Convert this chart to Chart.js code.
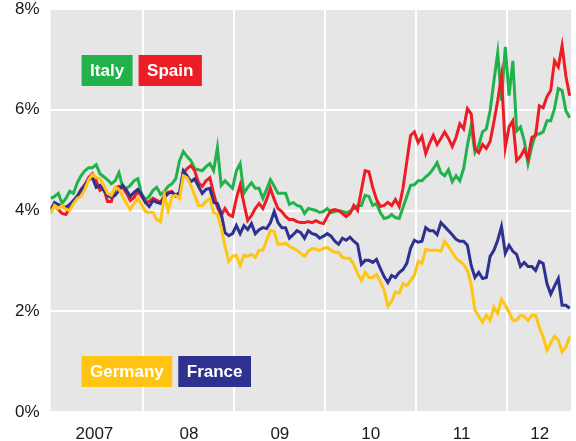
<!DOCTYPE html>
<html>
<head>
<meta charset="utf-8">
<script src="https://cdn.jsdelivr.net/npm/chart.js@4/dist/chart.umd.min.js"></script>
<style>
  html, body { margin: 0; padding: 0; background: #fff; }
  #wrap { width: 576px; height: 441px; }
</style>
</head>
<body>
<div id="wrap"><canvas id="chart" width="576" height="441"></canvas></div>
<script>
// ── Data: 10-year government bond yields, %, semi-monthly readings ────
const firstDate = 2006.98;     // decimal year of first reading
const stepYears = 1 / 24;      // two readings a month

const italy = [
  4.24, 4.28, 4.34, 4.14, 4.24, 4.38, 4.34, 4.55, 4.69, 4.79, 4.85, 4.85, 4.91, 4.73, 4.67, 4.61,
  4.53, 4.59, 4.75, 4.46, 4.44, 4.50, 4.59, 4.63, 4.32, 4.22, 4.28, 4.40, 4.46, 4.32, 4.38, 4.48,
  4.53, 4.63, 4.99, 5.17, 5.07, 4.99, 4.83, 4.81, 4.79, 4.87, 4.93, 4.79, 5.25, 4.50, 4.59, 4.51,
  4.44, 4.79, 4.93, 4.34, 4.46, 4.55, 4.44, 4.44, 4.24, 4.42, 4.61, 4.48, 4.34, 4.34, 4.34, 4.12,
  4.16, 4.10, 4.08, 3.94, 4.04, 4.02, 4.00, 3.96, 3.98, 4.04, 3.96, 3.98, 4.00, 3.98, 3.96, 3.98,
  4.04, 4.10, 4.10, 4.30, 4.28, 4.10, 4.14, 3.96, 3.84, 3.86, 3.92, 3.86, 3.84, 4.06, 4.28, 4.50,
  4.51, 4.59, 4.59, 4.67, 4.73, 4.83, 4.95, 4.75, 4.69, 4.81, 4.57, 4.69, 4.59, 4.83, 5.29, 5.68,
  5.15, 5.29, 5.56, 5.62, 5.98, 6.57, 7.13, 6.18, 7.25, 6.28, 6.97, 5.58, 5.66, 5.39, 4.93, 5.27,
  5.52, 5.52, 5.56, 5.78, 5.78, 6.02, 6.42, 6.38, 5.98, 5.84
];
const spain = [
  4.04, 4.14, 4.02, 3.94, 3.92, 4.06, 4.18, 4.28, 4.42, 4.51, 4.65, 4.73, 4.59, 4.40, 4.44, 4.18,
  4.18, 4.44, 4.48, 4.46, 4.34, 4.20, 4.26, 4.38, 4.28, 4.16, 4.18, 4.24, 4.20, 4.16, 4.30, 4.36,
  4.38, 4.28, 4.30, 4.75, 4.83, 4.89, 4.79, 4.55, 4.48, 4.59, 4.65, 4.34, 4.06, 3.90, 4.04, 3.92,
  3.88, 4.24, 4.50, 4.14, 3.80, 3.90, 4.04, 4.14, 4.04, 4.22, 4.44, 4.22, 4.04, 3.98, 3.88, 3.82,
  3.82, 3.78, 3.76, 3.76, 3.78, 3.76, 3.80, 3.76, 3.74, 3.88, 4.00, 4.02, 4.00, 3.94, 3.88, 3.94,
  4.10, 4.00, 4.40, 4.79, 4.77, 4.46, 4.22, 4.08, 4.10, 4.16, 4.10, 4.22, 4.08, 4.44, 4.97, 5.49,
  5.56, 5.35, 5.47, 5.13, 5.33, 5.49, 5.31, 5.43, 5.56, 5.43, 5.27, 5.45, 5.72, 5.62, 6.02, 5.92,
  5.23, 5.15, 5.31, 5.23, 5.37, 5.76, 6.18, 6.67, 5.25, 5.66, 5.78, 4.99, 5.07, 5.21, 5.03, 5.45,
  5.49, 6.08, 6.04, 6.26, 6.38, 6.97, 6.85, 7.27, 6.67, 6.28
];
const france = [
  4.00, 4.16, 4.12, 4.08, 4.06, 4.12, 4.20, 4.28, 4.40, 4.50, 4.61, 4.65, 4.46, 4.50, 4.40, 4.30,
  4.26, 4.30, 4.40, 4.50, 4.40, 4.28, 4.36, 4.42, 4.32, 4.16, 4.08, 4.20, 4.16, 4.14, 4.26, 4.34,
  4.36, 4.30, 4.36, 4.79, 4.69, 4.57, 4.63, 4.48, 4.34, 4.42, 4.44, 4.16, 4.14, 3.94, 3.56, 3.50,
  3.54, 3.70, 3.54, 3.70, 3.62, 3.74, 3.54, 3.62, 3.66, 3.64, 3.76, 3.98, 3.76, 3.66, 3.66, 3.45,
  3.52, 3.60, 3.56, 3.45, 3.60, 3.54, 3.52, 3.45, 3.49, 3.54, 3.49, 3.39, 3.33, 3.45, 3.41, 3.47,
  3.39, 3.33, 2.93, 3.01, 3.01, 2.97, 3.03, 2.85, 2.69, 2.57, 2.71, 2.67, 2.77, 2.83, 2.95, 3.25,
  3.41, 3.37, 3.39, 3.66, 3.60, 3.60, 3.52, 3.76, 3.68, 3.60, 3.52, 3.43, 3.39, 3.39, 3.31, 2.91,
  2.67, 2.77, 2.65, 2.67, 3.09, 3.21, 3.41, 3.68, 3.15, 3.31, 3.19, 3.13, 2.89, 2.97, 2.89, 2.89,
  2.81, 2.99, 2.95, 2.55, 2.34, 2.50, 2.65, 2.12, 2.12, 2.06
];
const germany = [
  3.94, 4.10, 4.04, 4.10, 4.02, 4.00, 4.14, 4.24, 4.28, 4.42, 4.61, 4.71, 4.65, 4.63, 4.50, 4.34,
  4.30, 4.46, 4.42, 4.28, 4.14, 4.02, 4.14, 4.24, 4.12, 3.98, 3.96, 3.96, 3.82, 3.78, 4.30, 4.00,
  4.28, 4.30, 4.24, 4.69, 4.65, 4.50, 4.30, 4.10, 4.10, 4.18, 4.24, 3.96, 3.92, 3.66, 3.29, 2.99,
  3.09, 3.11, 2.91, 3.11, 3.09, 3.13, 3.07, 3.21, 3.21, 3.41, 3.60, 3.58, 3.33, 3.33, 3.35, 3.29,
  3.25, 3.21, 3.15, 3.09, 3.19, 3.25, 3.23, 3.21, 3.25, 3.27, 3.21, 3.17, 3.17, 3.07, 3.05, 3.05,
  2.93, 2.75, 2.61, 2.77, 2.67, 2.67, 2.73, 2.59, 2.42, 2.10, 2.20, 2.38, 2.36, 2.55, 2.51, 2.61,
  2.71, 2.99, 2.95, 3.23, 3.21, 3.21, 3.21, 3.19, 3.39, 3.29, 3.17, 3.05, 2.99, 2.93, 2.81, 2.53,
  2.02, 1.90, 1.78, 1.92, 1.82, 2.08, 1.96, 2.24, 2.12, 1.98, 1.82, 1.82, 1.92, 1.90, 1.82, 1.92,
  1.92, 1.68, 1.49, 1.23, 1.37, 1.50, 1.43, 1.19, 1.29, 1.50
];

// ── Axis settings ─────────────────────────────────────────────────────
const xMin = 2006.978;
const xMax = 2012.703;
const yearBreaks = [2008, 2009, 2010, 2011, 2012];
const yearLabels = ['2007', '08', '09', '10', '11', '12'];
const yearLabelPos = [2007.46, 2008.5, 2009.5, 2010.5, 2011.5, 2012.36];
const yTicks = [0, 2, 4, 6, 8];

const countries = ['Italy', 'Spain', 'Germany', 'France'];
const colors = {
  Italy: '#22b24c',
  Spain: '#ee1d25',
  Germany: '#ffc512',
  France: '#2e3190',
};

const dates = italy.map((_, i) => firstDate + i * stepYears);
const toPoints = arr => arr.map((v, i) => ({ x: dates[i], y: v }));

const fontFamily = "'Liberation Sans', Arial, Helvetica, sans-serif";

// ── Plugins: grey plot panel + coloured name tags ─────────────────────
const plotBackground = {
  id: 'plotBackground',
  beforeDraw(chart) {
    const { ctx, chartArea: a } = chart;
    ctx.save();
    ctx.fillStyle = '#e6e6e6';
    ctx.fillRect(a.left, a.top, a.right - a.left, a.bottom - a.top);
    ctx.restore();
  }
};

const nameTags = {
  id: 'nameTags',
  afterDraw(chart) {
    const { ctx, chartArea: a } = chart;
    const rows = [
      { top: a.top + 46, names: ['Italy', 'Spain'] },
      { top: a.top + 347, names: ['Germany', 'France'] },
    ];
    ctx.save();
    ctx.font = `bold 17px ${fontFamily}`;
    ctx.textBaseline = 'middle';
    rows.forEach(row => {
      let x = a.left + 31;
      row.names.forEach(name => {
        const w = ctx.measureText(name).width + 17;
        ctx.fillStyle = colors[name];
        ctx.fillRect(x, row.top, w, 31);
        ctx.fillStyle = '#fff';
        ctx.textAlign = 'center';
        ctx.fillText(name, x + w / 2, row.top + 16.5);
        x += w + 6;
      });
    });
    ctx.restore();
  }
};

// ── Chart ─────────────────────────────────────────────────────────────
const drawOrder = { Germany: 1, France: 2, Spain: 3, Italy: 4 };
const series = { Italy: italy, Spain: spain, Germany: germany, France: france };

new Chart(document.getElementById('chart').getContext('2d'), {
  type: 'line',
  data: {
    datasets: countries.map(name => ({
      label: name,
      data: toPoints(series[name]),
      borderColor: colors[name],
      borderWidth: 3,
      pointRadius: 0,
      tension: 0,
      fill: false,
      order: drawOrder[name],
    })),
  },
  options: {
    responsive: false,
    animation: false,
    devicePixelRatio: 1,
    layout: { autoPadding: false, padding: { left: 4, right: 5, top: 9, bottom: 0 } },
    plugins: { legend: { display: false }, tooltip: { enabled: false } },
    scales: {
      x: {
        type: 'linear', min: xMin, max: xMax, position: 'bottom',
        afterBuildTicks: s => { s.ticks = yearBreaks.map(v => ({ value: v })); },
        afterFit: s => { s.height = 0; },
        ticks: { display: false },
        grid: { color: '#ffffff', lineWidth: 2, drawTicks: false },
        border: { display: false },
      },
      xl: {
        type: 'linear', min: xMin, max: xMax, position: 'bottom',
        afterBuildTicks: s => { s.ticks = yearLabelPos.map(v => ({ value: v })); },
        afterFit: s => { s.height = 29; s.paddingTop = 0; s.paddingBottom = 0; },
        ticks: {
          autoSkip: false, maxRotation: 0, padding: 12,
          color: '#1a1a1a', font: { family: fontFamily, size: 17 },
          callback: (v, i) => yearLabels[i],
        },
        grid: { display: false, drawTicks: false },
        border: { display: false },
      },
      y: {
        min: 0, max: 8,
        afterBuildTicks: s => { s.ticks = yTicks.map(v => ({ value: v })); },
        // labels may overhang the panel; do not shrink the plot for them
        afterFit: s => { s.paddingTop = 0; s.paddingBottom = 0; },
        ticks: {
          padding: 11, color: '#1a1a1a', font: { family: fontFamily, size: 17 },
          callback: v => v + '%',
        },
        grid: { color: '#ffffff', lineWidth: 2, drawTicks: false },
        border: { display: false },
      },
    },
  },
  plugins: [plotBackground, nameTags],
});
</script>
</body>
</html>
